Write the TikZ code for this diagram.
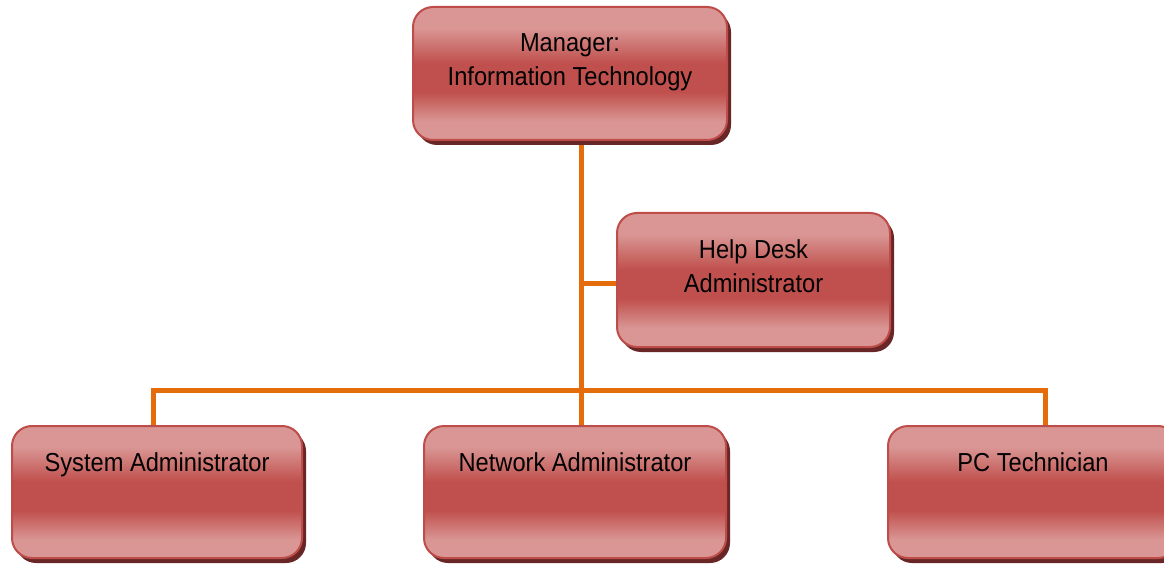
\documentclass[tikz,border=0pt]{standalone}
\usepackage{fontspec}
\setmainfont{Liberation Sans}[FakeStretch=0.91]
\usetikzlibrary{shadows}
\definecolor{boxlight}{RGB}{217,150,148}
\definecolor{boxdark}{RGB}{192,80,77}
\definecolor{boxborder}{RGB}{190,76,73}
\definecolor{boxshadow}{RGB}{105,38,38}
\definecolor{linkorange}{RGB}{228,108,10}
\pgfdeclareverticalshading{boxshade}{100bp}{color(0bp)=(boxlight); color(32bp)=(boxlight); color(43bp)=(boxdark); color(54bp)=(boxdark); color(67bp)=(boxlight); color(100bp)=(boxlight)}
\newcommand{\boxlabel}[3]{\parbox[c][#2][t]{#1}{\centering\rule{0pt}{45pt}#3}}
\begin{document}
\begin{tikzpicture}[x=1pt,y=-1pt,
  orgbox/.style={rounded corners=20pt, draw=boxborder, line width=2pt, shading=boxshade,
    drop shadow={shadow xshift=4pt, shadow yshift=-5pt, fill=boxshadow, opacity=1},
    inner sep=0pt, outer sep=0pt, font=\fontsize{26}{34}\selectfont},
  link/.style={draw=linkorange, line width=5pt}]
\useasboundingbox (0,0) rectangle (1164,564);
% connectors
\coordinate (top) at (581,140);
\coordinate (bus) at (581,390);
\coordinate (busL) at (153,390);
\coordinate (busR) at (1045,390);
\coordinate (hd) at (581,283);
\draw[link] (top) -- (581,426);
\draw[link] (153,426) -- (busL) -- (busR) -- (1045,426);
\draw[link] (hd) -- (619,283);
% boxes
\node[orgbox] (mgr) at (570,73.5) {\boxlabel{314pt}{133pt}{Manager:\\Information Technology}};
\node[orgbox] (help) at (753.5,280) {\boxlabel{273pt}{134pt}{Help Desk\\Administrator}};
\node[orgbox] (sys) at (157,492) {\boxlabel{290pt}{132pt}{System Administrator}};
\node[orgbox] (net) at (575,492) {\boxlabel{302pt}{132pt}{Network Administrator}};
\node[orgbox] (pc) at (1033,492) {\boxlabel{290pt}{132pt}{PC Technician}};
\end{tikzpicture}
\end{document}
